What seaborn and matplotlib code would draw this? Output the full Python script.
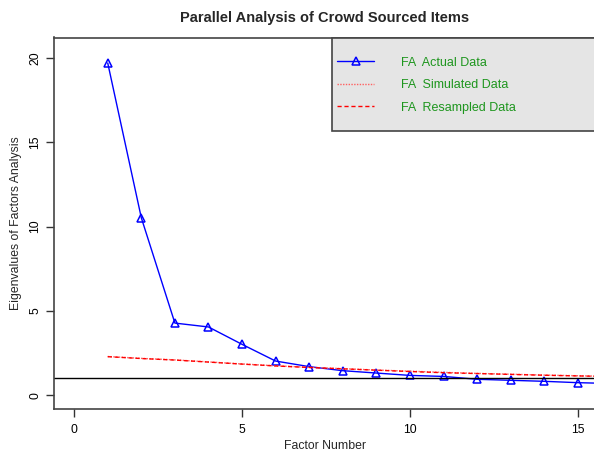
import numpy as np
import pandas as pd
import matplotlib
matplotlib.use("Agg")
import matplotlib.pyplot as plt
from matplotlib.patches import Rectangle
import seaborn as sns

sns.set_style("white")
plt.rcParams['font.family'] = ['Liberation Sans', 'DejaVu Sans']

factors = list(range(1, 17))
actual = [19.69, 10.52, 4.28, 4.05, 3.02, 2.03, 1.70, 1.46, 1.32, 1.18, 1.12, 0.95, 0.89, 0.83, 0.75, 0.70]
simulated = [2.30, 2.19, 2.10, 1.98, 1.86, 1.75, 1.66, 1.58, 1.50, 1.43, 1.36, 1.30, 1.25, 1.20, 1.16, 1.12]
resampled = [2.29, 2.18, 2.09, 1.97, 1.85, 1.74, 1.65, 1.57, 1.49, 1.41, 1.34, 1.29, 1.24, 1.19, 1.15, 1.11]
labels = ["FA  Actual Data", "FA  Simulated Data", "FA  Resampled Data"]
title = "Parallel Analysis of Crowd Sourced Items"
xlabel = "Factor Number"
ylabel = "Eigenvalues of Factors Analysis"

df = pd.DataFrame({"factor": factors, "actual": actual,
                   "simulated": simulated, "resampled": resampled})

fig = plt.figure(figsize=(5.94, 4.55), dpi=100)
W, H = 594, 455
left, right, top, bottom = 54, 596, 37.5, 409
aw, ah = right - left, bottom - top
ax = fig.add_axes([left / W, 1 - bottom / H, aw / W, ah / H])

sns.lineplot(data=df, x="factor", y="actual", ax=ax, color="#0000ff", lw=1,
             marker="^", markersize=5.5, markerfacecolor="none",
             markeredgecolor="#0000ff", markeredgewidth=1.1, label=labels[0])
sns.lineplot(data=df, x="factor", y="simulated", ax=ax, color="#ff6060", lw=1,
             linestyle=(0, (1, 1)), label=labels[1])
sns.lineplot(data=df, x="factor", y="resampled", ax=ax, color="#ff0000", lw=1,
             linestyle=(0, (3, 2)), label=labels[2])
ax.axhline(1, color="black", lw=1)

ax.set_xlim(-0.6, 15.54)
ax.set_ylim(-0.81, 21.2)
ax.set_xticks([0, 5, 10, 15])
ax.set_yticks([0, 5, 10, 15, 20])
ax.tick_params(axis="both", direction="out", length=6, width=1, colors="#333333",
               labelsize=8.8, labelcolor="black", bottom=True, left=True, pad=5)
ax.tick_params(axis="y", pad=3)
for lab in ax.get_yticklabels():
    lab.set_rotation(90)
    lab.set_va("center")
for side in ["left", "bottom", "top"]:
    ax.spines[side].set_color("#444444")
    ax.spines[side].set_linewidth(1.2)
ax.spines["right"].set_visible(False)

ax.set_xlabel(xlabel, fontsize=8.8, va="center")
ax.set_ylabel(ylabel, fontsize=8.8, va="center")
ax.xaxis.set_label_coords(0.5, (bottom - 446) / ah)
ax.yaxis.set_label_coords((16 - left) / aw, 0.5)
ax.set_title(title, fontsize=10.5, fontweight="bold", pad=11)

# legend background box
bx0, bx1, by0, by1 = 332, 598, 38, 131
ax.add_patch(Rectangle(((bx0 - left) / aw, (bottom - by1) / ah),
                       (bx1 - bx0) / aw, (by1 - by0) / ah,
                       transform=ax.transAxes, facecolor="#e5e5e5",
                       edgecolor="#444444", lw=1.2, zorder=5, clip_on=False))

leg = ax.legend(loc="upper left", bbox_to_anchor=((337 - left) / aw, (bottom - 56.5) / ah),
                borderaxespad=0, borderpad=0, frameon=False, fontsize=9,
                handlelength=3.0, handletextpad=2.1, labelspacing=0.85)
leg.set_zorder(6)
for t in leg.get_texts():
    t.set_color("#1e961e")

fig.savefig("out.png", dpi=100)
